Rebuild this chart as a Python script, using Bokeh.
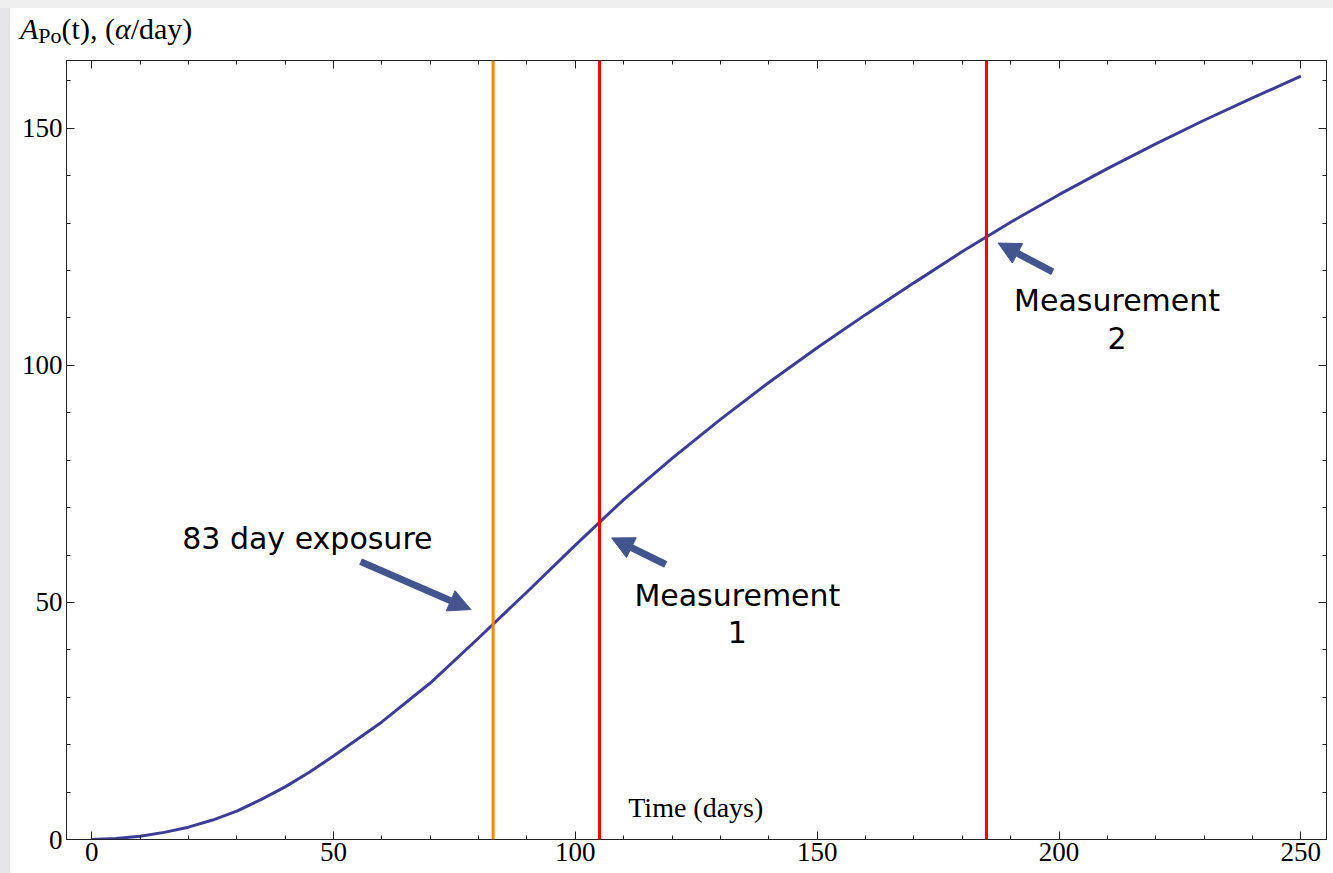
from bokeh.plotting import figure
from bokeh.layouts import column
from bokeh.models import (LinearAxis, Range1d, Label, Arrow, NormalHead, Span,
                          FixedTicker, CustomJSTickFormatter, ColumnDataSource, Div)
from bokeh.embed import file_html
from bokeh.resources import INLINE
from bokeh.core.properties import value

# ---- data ----
days = [0, 5, 10, 15, 20, 25, 30, 35, 40, 45, 50, 60, 70, 80, 90, 100, 110, 120,
        130, 140, 150, 160, 170, 180, 190, 200, 210, 220, 230, 240, 250]
activity = [0, 0.2, 0.7, 1.5, 2.6, 4.1, 6.0, 8.4, 11.1, 14.2, 17.6, 24.8, 33.0,
            42.5, 52.2, 62.1, 71.7, 80.4, 88.6, 96.4, 103.7, 110.7, 117.4, 124.0,
            130.2, 136.0, 141.5, 146.7, 151.7, 156.4, 161.0]
exposure_day = [83]
measurement_days = [105, 185]

x_major = [0, 50, 100, 150, 200, 250]
x_minor = list(range(0, 260, 10))
y_major = [0, 50, 100, 150]
y_minor = list(range(0, 170, 10))

note_text = ["83 day exposure", "Measurement", "1", "Measurement", "2"]
note_x = [44.6, 133.5, 133.5, 212.0, 212.0]
note_y = [63.5, 51.5, 43.8, 113.7, 105.7]

arrow_x0 = [55.6, 118.7, 198.7]
arrow_y0 = [58.6, 58.0, 119.7]
arrow_x1 = [78.4, 107.5, 187.4]
arrow_y1 = [48.5, 63.6, 125.8]

SERIF = "Liberation Serif"
SANS = "DejaVu Sans"
CURVE = "#3d3d99"
ARROW = "#43558f"

W = 1333
HEAD_H = 52

p = figure(width=W, height=873 - HEAD_H,
           x_range=Range1d(-5.2, 255.3), y_range=Range1d(0, 164.3),
           output_backend="svg", toolbar_location=None,
           min_border_left=66, min_border_right=7, min_border_top=8,
           min_border_bottom=34)
p.grid.visible = False
p.outline_line_color = "#222222"
p.background_fill_color = "white"
p.border_fill_color = None


def style_axis(ax, ticks, minor, labels=True):
    ax.ticker = FixedTicker(ticks=ticks, minor_ticks=minor)
    ax.major_tick_in = 8
    ax.major_tick_out = 0
    ax.minor_tick_in = 4
    ax.minor_tick_out = 0
    ax.axis_line_color = "#222222"
    ax.major_tick_line_color = "#222222"
    ax.minor_tick_line_color = "#222222"
    ax.major_label_text_font = SERIF
    ax.major_label_text_font_size = "27px"
    ax.major_label_text_color = "black"
    if not labels:
        ax.formatter = CustomJSTickFormatter(code="return ''")
        ax.major_label_text_font_size = "1px"
        ax.major_label_standoff = 0


style_axis(p.xaxis[0], x_major, x_minor)
p.xaxis[0].major_label_standoff = 3
style_axis(p.yaxis[0], y_major, y_minor)
p.yaxis[0].major_label_standoff = 4

top = LinearAxis()
style_axis(top, x_major, x_minor, labels=False)
p.add_layout(top, "above")
right = LinearAxis()
style_axis(right, y_major, y_minor, labels=False)
p.add_layout(right, "right")

# vertical markers
for d in exposure_day:
    p.add_layout(Span(location=d, dimension="height", line_color="#ff8400", line_width=3))
for d in measurement_days:
    p.add_layout(Span(location=d, dimension="height", line_color="#ff0000", line_width=3))

# the curve
p.line(days, activity, line_color=CURVE, line_width=3)

# arrows
for xs, ys, xe, ye in zip(arrow_x0, arrow_y0, arrow_x1, arrow_y1):
    p.add_layout(Arrow(end=NormalHead(size=22, fill_color=ARROW, line_color=ARROW),
                       x_start=xs, y_start=ys, x_end=xe, y_end=ye,
                       line_color=ARROW, line_width=7))

# notes
src = ColumnDataSource(dict(x=note_x, y=note_y, t=note_text))
p.text("x", "y", text="t", source=src, text_font=value(SANS),
       text_font_size="30px", text_align="center", text_baseline="alphabetic",
       text_color="black")

# x-axis caption, inside the frame as in the reference
p.add_layout(Label(x=124.9, y=6.7, text="Time (days)", text_font=SERIF,
                   text_font_size="28px", text_align="center",
                   text_baseline="alphabetic", text_color="black"))

# y-axis caption above the frame (mixed italic / subscript)
head = Div(
    text=("<div style=\"padding:14px 0 0 20px; font-family:'Liberation Serif',serif;"
          " font-size:30px; line-height:30px; white-space:nowrap; color:black;\">"
          "<i>A</i><span style=\"font-size:22px; position:relative; top:4px;\">Po</span>"
          "(t), (<i>\u03b1</i>/day)</div>"),
    width=W, height=HEAD_H, margin=0,
    styles={"background": "linear-gradient(to bottom, #efeff0 0px, #efeff0 8px, transparent 8px)"})

layout = column(head, p, spacing=0,
                styles={"background": "linear-gradient(to right, #e6e6ea 0px, #e6e6ea 10px, #ffffff 10px)"})
open("out.html", "w").write(file_html(layout, INLINE))
